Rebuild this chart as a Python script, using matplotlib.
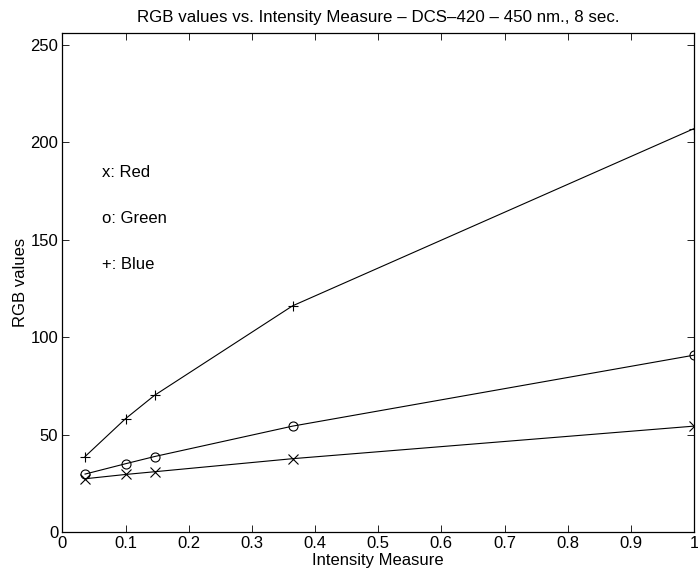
import matplotlib as mpl
mpl.use('Agg')
import matplotlib.pyplot as plt

plt.rcParams['font.family'] = ['Liberation Sans', 'DejaVu Sans']

# intensity measure and RGB channel values
intensity = [0.036, 0.100, 0.146, 0.3645, 1.0]
red = [27.3, 29.5, 30.9, 37.6, 54.3]
green = [29.7, 35.0, 38.7, 54.3, 90.7]
blue = [38.7, 58.1, 70.1, 116.0, 206.9]

fig = plt.figure(figsize=(6.98, 5.79), dpi=100)
ax = fig.add_axes([0.0893, 0.0812, 0.905, 0.862])

ax.plot(intensity, red, 'k-', marker='x', ms=7, mew=0.8, lw=0.8)
ax.plot(intensity, green, 'k-', marker='o', ms=6.5, mfc='none', mew=0.8, lw=0.8)
ax.plot(intensity, blue, 'k-', marker='+', ms=7, mew=0.8, lw=0.8)

# legend written as text
ax.text(0.063, 184.5, 'x: Red', fontsize=12, va='center')
ax.text(0.063, 160.8, 'o: Green', fontsize=12, va='center')
ax.text(0.063, 137.0, '+: Blue', fontsize=12, va='center')

ax.set_xlim(0, 1)
ax.set_ylim(0, 256)
ax.set_xticks([0, 0.1, 0.2, 0.3, 0.4, 0.5, 0.6, 0.7, 0.8, 0.9, 1])
ax.set_xticklabels(['0', '0.1', '0.2', '0.3', '0.4', '0.5', '0.6', '0.7', '0.8', '0.9', '1'])
ax.set_yticks([0, 50, 100, 150, 200, 250])
ax.tick_params(direction='in', top=True, right=True, length=5, width=0.6,
               labelsize=12, pad=3)
for s in ax.spines.values():
    s.set_linewidth(0.9)

ax.set_xlabel('Intensity Measure', fontsize=12, labelpad=1)
ax.set_ylabel('RGB values', fontsize=12, labelpad=2)
ax.set_title('RGB values vs. Intensity Measure \u2013 DCS\u2013420 \u2013 450 nm., 8 sec.',
             fontsize=12.2, pad=8)

plt.savefig('out.png')
plt.close()
